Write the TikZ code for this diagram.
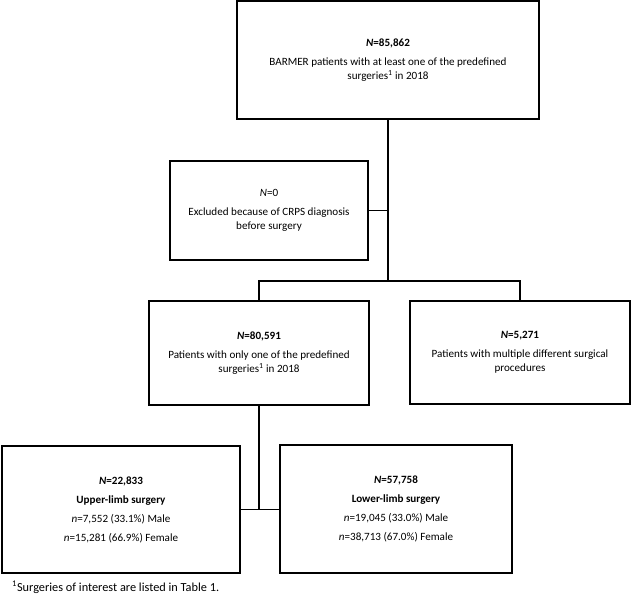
\documentclass[tikz,border=0pt]{standalone}
\usepackage{fontspec}
\setmainfont{Carlito}
\usetikzlibrary{positioning}

\tikzset{
    box/.style = {draw, line width = 1.3pt, rectangle, align = center,
                  inner sep = 2pt, font = \fontsize{11.1}{14}\selectfont},
    link/.style = {line width = 1.1pt}
}

\begin{document}
\begin{tikzpicture}[x = 1pt, y = -1pt]
            \useasboundingbox (0, 0) rectangle (631, 594);

            % boxes
            \node[box, minimum width = 302pt, minimum height = 118pt] (top) at (388, 60){
                \textbf{\textit{N}=85,862}\\[5pt]
                BARMER patients with at least one of the predefined\\
                surgeries\textsuperscript{1} in 2018};
            \node[box, minimum width = 198pt, minimum height = 99pt] (excl) at (269, 210.5){
                \textit{N}=0\\[5pt]
                Excluded because of CRPS diagnosis\\
                before surgery};
            \node[box, minimum width = 220pt, minimum height = 104pt] (mid) at (259, 353){
                \textbf{\textit{N}=80,591}\\[5pt]
                Patients with only one of the predefined\\
                surgeries\textsuperscript{1} in 2018};
            \node[box, minimum width = 220pt, minimum height = 103pt] (multi) at (520, 352.5){
                \textbf{\textit{N}=5,271}\\[5pt]
                Patients with multiple different surgical\\
                procedures};
            \node[box, minimum width = 238pt, minimum height = 127pt] (upper) at (121, 509.5){
                \textbf{\textit{N}=22,833}\\[5pt]
                \textbf{Upper-limb surgery}\\[5pt]
                \textit{n}=7,552 (33.1\%) Male\\[5pt]
                \textit{n}=15,281 (66.9\%) Female};
            \node[box, minimum width = 232pt, minimum height = 128pt] (lower) at (396, 509){
                \textbf{\textit{N}=57,758}\\[5pt]
                \textbf{Lower-limb surgery}\\[5pt]
                \textit{n}=19,045 (33.0\%) Male\\[5pt]
                \textit{n}=38,713 (67.0\%) Female};

            % footnote
            \node[anchor = base west, inner sep = 0pt, font = \fontsize{12.3}{14}\selectfont] (note) at (12, 591)
                {\textsuperscript{1}Surgeries of interest are listed in Table 1.};

            % connectors
            \coordinate (split) at (388, 281);
            \draw[link] (top.south) -- (split);
            \draw[link] (excl.east) -- (excl.east -| split);
            \draw[link] (mid.north) |- (split) -| (multi.north);
            \draw[link] (mid.south) -- (mid.south |- upper.east);
            \draw[link] (upper.east) -- (upper.east -| lower.west);
        \end{tikzpicture}
\end{document}
